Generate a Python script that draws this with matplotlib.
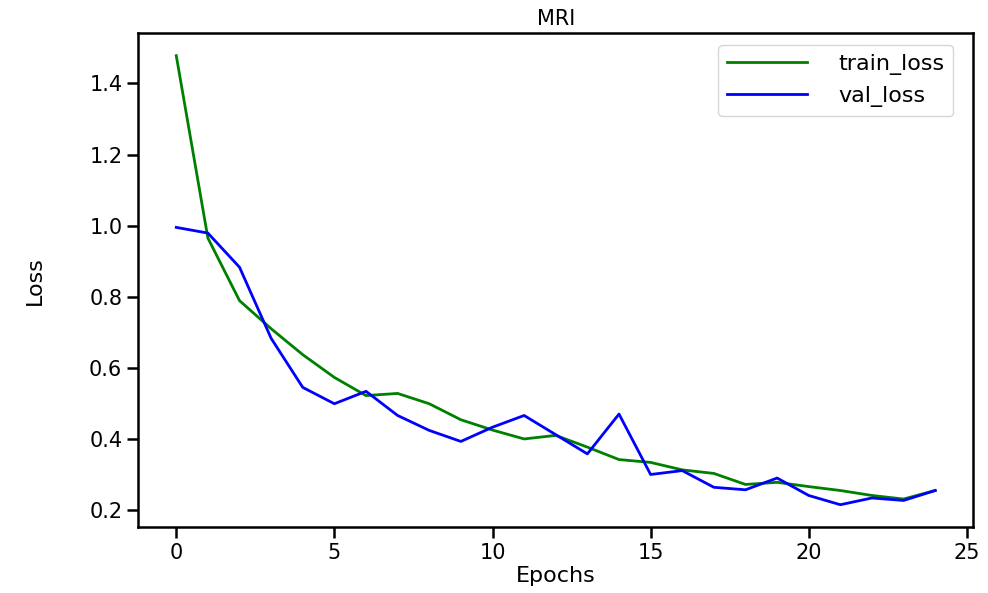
import matplotlib
matplotlib.use("Agg")
import matplotlib.pyplot as plt

epochs = list(range(25))
train_loss = [1.478, 0.965, 0.789, 0.71, 0.637, 0.573, 0.522, 0.528, 0.499, 0.454,
              0.425, 0.400, 0.41, 0.377, 0.342, 0.334, 0.313, 0.303, 0.272, 0.278,
              0.266, 0.255, 0.241, 0.231, 0.255]
val_loss = [0.995, 0.979, 0.883, 0.683, 0.545, 0.499, 0.534, 0.466, 0.424, 0.393,
            0.433, 0.466, 0.412, 0.358, 0.47, 0.30, 0.311, 0.264, 0.257, 0.29,
            0.241, 0.215, 0.234, 0.227, 0.255]

fig = plt.figure(figsize=(9.88, 5.93), dpi=100)
fig.subplots_adjust(left=0.14, right=0.985, bottom=0.111, top=0.944)
ax = fig.gca()

ax.plot(epochs, train_loss, color='green', lw=2, label='train_loss')
ax.plot(epochs, val_loss, color='blue', lw=2, label='val_loss')

ax.set_title('MRI', fontsize=15, pad=6)
ax.set_xlabel('Epochs', fontsize=16, labelpad=2)
ax.set_ylabel('Loss', fontsize=16, labelpad=32)
ax.set_yticks([0.2, 0.4, 0.6, 0.8, 1.0, 1.2, 1.4])
ax.set_xticks([0, 5, 10, 15, 20, 25])
ax.tick_params(labelsize=15, length=8, width=1.8)
for s in ax.spines.values():
    s.set_linewidth(1.8)

ax.legend(loc='upper right', bbox_to_anchor=(0.976, 0.976), borderaxespad=0,
          fontsize=16, handlelength=3.6, handletextpad=1.4, borderpad=0.4)

fig.savefig('out.png', dpi=100)
